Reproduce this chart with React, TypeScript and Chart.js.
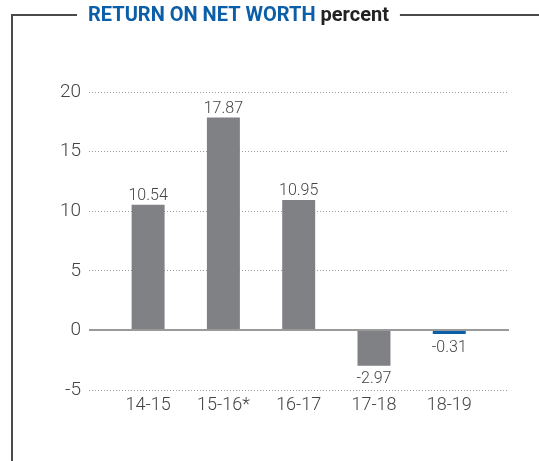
import React, { useEffect, useRef } from "react";
import { Chart, registerables } from "chart.js";

Chart.register(...registerables);

const categories = ["14-15", "15-16*", "16-17", "17-18", "18-19"];
const values = [10.54, 17.87, 10.95, -2.97, -0.31];
const barColors = ["#808184", "#808184", "#808184", "#808184", "#0b5ea8"];
const yTicks = [-5, 0, 5, 10, 15, 20];
const titleMain = "RETURN ON NET WORTH";
const titleUnit = "percent";

const FONT = "Roboto, 'Noto Sans', sans-serif";

const framePlugin = {
  id: "frame",
  afterDraw(chart: any) {
    const ctx = chart.ctx as CanvasRenderingContext2D;
    ctx.save();
    ctx.font = `bold 20px ${FONT}`;
    const x0 = 88;
    const base = 21;
    const mainW = ctx.measureText(titleMain + " ").width;
    const unitW = ctx.measureText(titleUnit).width;
    ctx.textBaseline = "alphabetic";
    ctx.textAlign = "left";
    ctx.fillStyle = "#0b5ea8";
    ctx.fillText(titleMain + " ", x0, base);
    ctx.fillStyle = "#222222";
    ctx.fillText(titleUnit, x0 + mainW, base);
    const end = x0 + mainW + unitW;
    ctx.strokeStyle = "#4a4a4a";
    ctx.lineWidth = 2;
    ctx.beginPath();
    ctx.moveTo(12, 461);
    ctx.lineTo(12, 15);
    ctx.lineTo(x0 - 11, 15);
    ctx.moveTo(end + 11, 15);
    ctx.lineTo(539, 15);
    ctx.stroke();
    ctx.restore();
  },
};

const zeroAndLabels = {
  id: "zeroAndLabels",
  afterDatasetsDraw(chart: any) {
    const ctx = chart.ctx as CanvasRenderingContext2D;
    const ys = chart.scales.y;
    const area = chart.chartArea;
    const y0 = ys.getPixelForValue(0);
    ctx.save();
    ctx.strokeStyle = "#9a9a9a";
    ctx.lineWidth = 2;
    ctx.beginPath();
    ctx.moveTo(area.left, y0 - 0.5);
    ctx.lineTo(area.right + 1, y0 - 0.5);
    ctx.stroke();
    ctx.font = `300 16px ${FONT}`;
    ctx.fillStyle = "#444444";
    ctx.textAlign = "center";
    ctx.textBaseline = "alphabetic";
    const meta = chart.getDatasetMeta(0);
    meta.data.forEach((bar: any, i: number) => {
      const v = values[i];
      const txt = v.toFixed(2);
      if (v >= 0) {
        ctx.fillText(txt, bar.x, bar.y - 4.5);
      } else {
        ctx.fillText(txt, bar.x, bar.y + 17.5);
      }
    });
    ctx.restore();
  },
};

export default function App() {
  const ref = useRef<HTMLCanvasElement | null>(null);
  useEffect(() => {
    if (!ref.current) return;
    const chart = new Chart(ref.current, {
      type: "bar",
      data: {
        datasets: [
          {
            data: values.map((v, i) => ({ x: i, y: v })),
            backgroundColor: barColors,
            borderWidth: 0,
            barPercentage: 0.438,
            categoryPercentage: 1,
          },
        ],
      },
      options: {
        responsive: false,
        animation: false,
        layout: { padding: { top: 92, right: 31, left: 0, bottom: 0 } },
        plugins: {
          legend: { display: false },
          tooltip: { enabled: false },
          title: { display: false },
        },
        scales: {
          x: {
            type: "linear",
            offset: false,
            min: -0.785,
            max: 4.78,
            grid: { display: false, drawTicks: false, offset: false },
            border: { display: false },
            afterBuildTicks: (s: any) => {
              s.ticks = categories.map((_, i) => ({ value: i }));
            },
            afterFit: (s: any) => {
              s.height = 71;
            },
            ticks: {
              autoSkip: false,
              maxRotation: 0,
              padding: 5,
              color: "#444444",
              font: { family: FONT, size: 18, weight: "300" as any },
              callback: (v: any) => categories[Math.round(Number(v))] ?? "",
            },
          },
          y: {
            type: "linear",
            min: -5,
            max: 20,
            afterBuildTicks: (s: any) => {
              s.ticks = yTicks.map((v) => ({ value: v }));
            },
            afterFit: (s: any) => {
              s.width = 89;
            },
            grid: {
              drawTicks: false,
              color: (c: any) => (c.tick && c.tick.value === 0 ? "rgba(0,0,0,0)" : "#9a9a9a"),
              lineWidth: 1,
            },
            border: { display: false, dash: [1, 2] },
            ticks: {
              padding: 8,
              color: "#444444",
              font: { family: FONT, size: 19, weight: "300" as any },
            },
          },
        },
      },
      plugins: [zeroAndLabels, framePlugin],
    });
    return () => chart.destroy();
  }, []);
  return (
    <div style={{ position: "absolute", left: 0, top: 0, width: 539, height: 461, background: "#fff" }}>
      <canvas ref={ref} width={539} height={461} />
    </div>
  );
}
